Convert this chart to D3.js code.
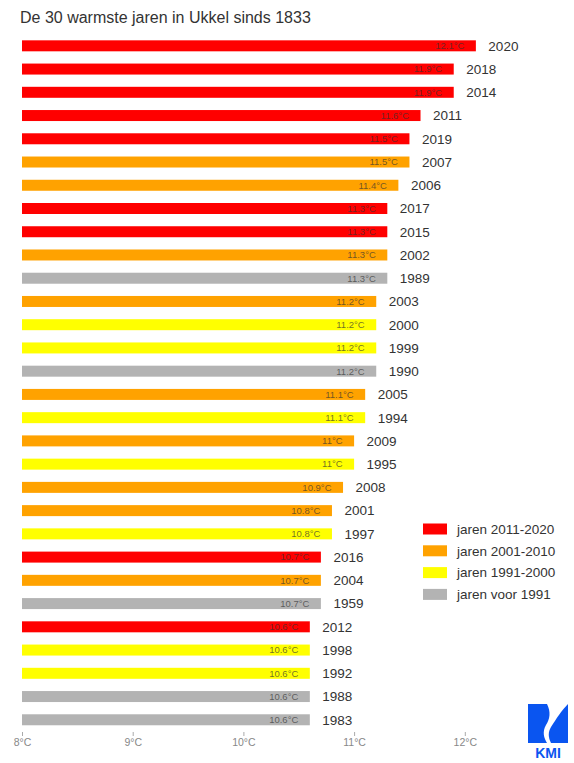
<!DOCTYPE html>
<html>
<head>
<meta charset="utf-8">
<script src="https://cdn.jsdelivr.net/npm/d3@7"></script>
<style>
  body { margin: 0; background: #fff; }
  text { font-family: "Liberation Sans", Arial, sans-serif; }
</style>
</head>
<body>
<div id="chart"></div>
<script>
// Data
const years = ["2020", "2018", "2014", "2011", "2019", "2007", "2006", "2017", "2015", "2002",
               "1989", "2003", "2000", "1999", "1990", "2005", "1994", "2009", "1995", "2008",
               "2001", "1997", "2016", "2004", "1959", "2012", "1998", "1992", "1988", "1983"];
const temps = [12.1, 11.9, 11.9, 11.6, 11.5, 11.5, 11.4, 11.3, 11.3, 11.3,
               11.3, 11.2, 11.2, 11.2, 11.2, 11.1, 11.1, 11.0, 11.0, 10.9,
               10.8, 10.8, 10.7, 10.7, 10.7, 10.6, 10.6, 10.6, 10.6, 10.6];
const groups = ["jaren 2011-2020", "jaren 2001-2010", "jaren 1991-2000", "jaren voor 1991"];
const groupColors = ["#ff0000", "#ffa200", "#ffff00", "#b3b3b3"];
const xTicks = [8, 9, 10, 11, 12];

function groupOf(year) {
    const y = +year;
    if (y >= 2011) return groups[0];
    if (y >= 2001) return groups[1];
    if (y >= 1991) return groups[2];
    return groups[3];
}

const data = years.map((y, i) => ({ year: y, temp: temps[i], group: groupOf(y) }));

const width = 574, height = 763;
const svg = d3.select("#chart").append("svg")
    .attr("width", width)
    .attr("height", height);

// Scales
const x = d3.scaleLinear().domain([8, 12]).range([22, 464.8]);
const y = d3.scaleBand().domain(years).range([34.2, 731.4])
    .paddingInner(0.527).paddingOuter(0.2635);
const color = d3.scaleOrdinal().domain(groups).range(groupColors);
const fmt = v => (Number.isInteger(v) ? v.toFixed(0) : v.toFixed(1)) + "°C";

// Title
svg.append("text")
    .attr("x", 20)
    .attr("y", 23)
    .style("font-size", "16px")
    .style("fill", "#333")
    .text("De 30 warmste jaren in Ukkel sinds 1833");

// Bars
svg.selectAll(".bar")
    .data(data)
    .enter()
    .append("rect")
    .attr("class", "bar")
    .attr("x", x(8))
    .attr("y", d => y(d.year))
    .attr("width", d => x(d.temp) - x(8))
    .attr("height", y.bandwidth())
    .attr("fill", d => color(d.group));

// Value labels inside the bars
svg.selectAll(".val")
    .data(data)
    .enter()
    .append("text")
    .attr("class", "val")
    .attr("x", d => x(d.temp) - 11.5)
    .attr("y", d => y(d.year) + y.bandwidth() / 2)
    .attr("dy", "0.35em")
    .attr("text-anchor", "end")
    .style("font-size", "9.5px")
    .style("fill", "#333")
    .style("fill-opacity", 0.7)
    .text(d => fmt(d.temp));

// Year labels
svg.selectAll(".yr")
    .data(data)
    .enter()
    .append("text")
    .attr("class", "yr")
    .attr("x", d => x(d.temp) + 12.5)
    .attr("y", d => y(d.year) + y.bandwidth() / 2)
    .attr("dy", "0.36em")
    .style("font-size", "13.5px")
    .style("fill", "#333")
    .text(d => d.year);

// X axis
const xAxis = svg.append("g")
    .attr("transform", "translate(0,732)")
    .call(d3.axisBottom(x).tickValues(xTicks).tickSize(4).tickPadding(3).tickFormat(d => d + "°C"));
xAxis.select(".domain").remove();
xAxis.selectAll(".tick line").attr("stroke", "#aaa");
xAxis.selectAll(".tick text")
    .style("font-size", "10.5px")
    .style("fill", "#888")
    .style("font-family", "Liberation Sans, Arial, sans-serif");

// Legend
const legend = svg.append("g").attr("transform", "translate(423,523.5)");
const rows = legend.selectAll(".leg")
    .data(groups)
    .enter()
    .append("g")
    .attr("class", "leg")
    .attr("transform", (d, i) => `translate(0,${i * 21.8})`);
rows.append("rect")
    .attr("width", 24)
    .attr("height", 11)
    .attr("fill", d => color(d));
rows.append("text")
    .attr("x", 34)
    .attr("y", 5.5)
    .attr("dy", "0.36em")
    .style("font-size", "13.5px")
    .style("fill", "#333")
    .text(d => d);

// KMI logo
const logo = svg.append("g").attr("transform", "translate(528,704)");
logo.append("path")
    .attr("d", "M0,0 H19 C23,8 22,15 18,21 C14,28 16,34 19,39 H0 Z")
    .attr("fill", "#0a55f0");
logo.append("path")
    .attr("d", "M40,0 V39 H23 C20,33 20,28 23,23 C28,15 34,6 40,0 Z")
    .attr("fill", "#0a55f0");
logo.append("text")
    .attr("x", 20)
    .attr("y", 54)
    .attr("text-anchor", "middle")
    .style("font-size", "14px")
    .style("font-weight", "bold")
    .style("fill", "#0a55f0")
    .text("KMI");
</script>
</body>
</html>
